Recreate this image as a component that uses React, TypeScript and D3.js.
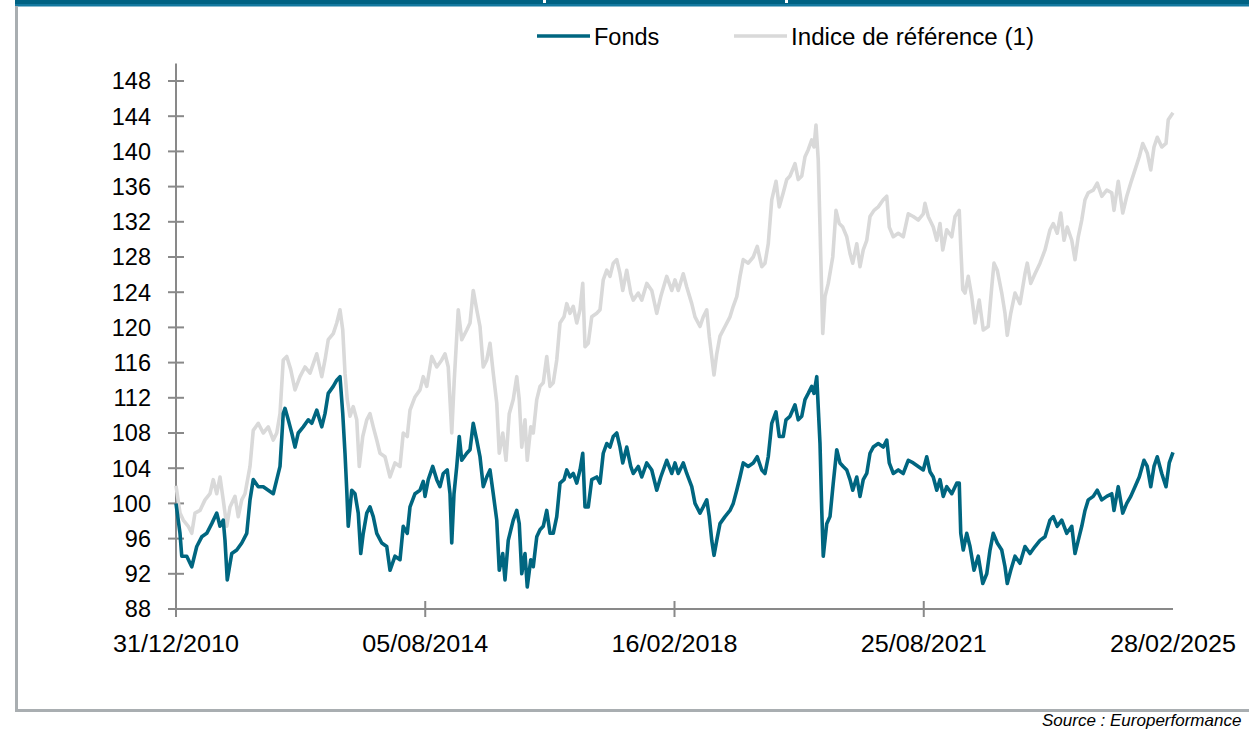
import React from "react";
import * as d3 from "d3";

// ---- Data (observation index along the category axis, value base 100) ----
const fonds: [number, number][] = [
  [0, 100.0], [16, 96.6], [23, 94.0], [43, 94.0], [63, 92.8], [83, 95.1], [103, 96.2], [123, 96.6],
  [143, 97.7], [163, 98.9], [176, 97.4], [189, 98.1], [196, 95.8], [205, 91.3], [223, 94.3], [243, 94.7],
  [263, 95.5], [283, 96.6], [296, 100.4], [309, 102.7], [329, 101.9], [349, 101.9], [369, 101.5], [389, 101.1],
  [403, 102.7], [416, 104.2], [429, 110.2], [436, 110.8], [449, 109.5], [463, 108.0], [476, 106.4], [489, 108.0],
  [509, 108.7], [529, 109.5], [543, 109.1], [563, 110.6], [583, 108.7], [596, 110.2], [609, 112.5], [629, 113.3],
  [643, 114.0], [656, 114.4], [667, 110.2], [676, 105.7], [683, 101.5], [689, 97.4], [703, 101.5], [716, 101.1],
  [729, 98.9], [739, 94.3], [749, 96.6], [763, 98.9], [776, 99.6], [789, 98.5], [803, 96.6], [823, 95.5],
  [843, 95.1], [856, 92.4], [876, 94.0], [896, 93.6], [909, 97.4], [925, 96.6], [936, 99.6], [956, 101.1],
  [976, 101.5], [989, 102.5], [996, 100.8], [1009, 102.7], [1027, 104.2], [1043, 102.7], [1056, 101.9], [1069, 103.4],
  [1085, 103.8], [1096, 101.1], [1103, 95.5], [1112, 101.1], [1123, 104.2], [1133, 107.6], [1143, 104.9], [1163, 105.7],
  [1176, 106.1], [1189, 109.1], [1203, 107.2], [1216, 105.3], [1229, 101.9], [1243, 103.0], [1256, 103.8], [1269, 101.1],
  [1283, 98.1], [1293, 92.4], [1307, 94.3], [1316, 91.3], [1329, 95.8], [1349, 98.1], [1363, 99.2], [1373, 97.7],
  [1383, 92.0], [1396, 94.3], [1405, 90.5], [1419, 93.6], [1429, 92.8], [1443, 96.2], [1456, 97.0], [1469, 97.4],
  [1483, 99.2], [1496, 96.6], [1509, 96.6], [1523, 98.5], [1536, 102.3], [1552, 102.7], [1563, 103.8], [1576, 103.0],
  [1589, 103.4], [1603, 102.3], [1616, 103.8], [1627, 105.7], [1636, 99.6], [1649, 99.6], [1663, 102.7], [1683, 103.0],
  [1696, 102.3], [1709, 105.7], [1723, 106.8], [1736, 106.4], [1749, 107.6], [1763, 108.0], [1776, 106.4], [1787, 104.6],
  [1803, 106.4], [1819, 104.2], [1829, 103.4], [1849, 104.2], [1863, 103.0], [1883, 104.6], [1903, 103.8], [1923, 101.5],
  [1939, 103.0], [1963, 104.9], [1983, 103.4], [1996, 104.6], [2009, 103.4], [2029, 104.6], [2043, 103.4], [2063, 101.9],
  [2076, 100.0], [2096, 98.9], [2109, 99.6], [2123, 100.4], [2133, 98.5], [2143, 95.8], [2152, 94.1], [2163, 95.8],
  [2176, 97.7], [2196, 98.5], [2216, 99.2], [2229, 100.0], [2243, 101.5], [2256, 103.0], [2269, 104.6], [2289, 104.2],
  [2309, 104.6], [2325, 105.3], [2343, 103.8], [2356, 103.4], [2369, 105.3], [2383, 109.1], [2400, 110.4], [2413, 107.6],
  [2429, 107.6], [2440, 109.5], [2456, 109.9], [2476, 111.2], [2489, 109.5], [2503, 109.9], [2516, 111.8], [2529, 112.5],
  [2543, 113.3], [2552, 112.5], [2563, 114.4], [2576, 106.8], [2583, 99.2], [2589, 94.0], [2603, 97.7], [2616, 98.5],
  [2629, 102.3], [2643, 106.1], [2656, 104.6], [2669, 104.2], [2683, 103.8], [2696, 102.7], [2707, 101.5], [2723, 103.0],
  [2736, 100.8], [2749, 102.7], [2763, 103.4], [2776, 105.7], [2789, 106.4], [2809, 106.8], [2829, 106.4], [2843, 107.2],
  [2853, 104.6], [2869, 103.4], [2889, 103.8], [2909, 103.4], [2929, 104.9], [2949, 104.6], [2969, 104.2], [2989, 103.8],
  [3003, 105.3], [3016, 103.6], [3029, 103.0], [3043, 101.5], [3056, 102.7], [3069, 100.8], [3083, 101.9], [3103, 101.1],
  [3123, 102.3], [3133, 102.3], [3139, 96.6], [3149, 94.7], [3163, 96.6], [3176, 95.1], [3192, 92.4], [3209, 94.0],
  [3227, 90.9], [3243, 92.0], [3256, 94.7], [3269, 96.6], [3285, 95.5], [3303, 94.7], [3316, 92.8], [3325, 90.9],
  [3339, 92.4], [3356, 94.0], [3376, 93.2], [3396, 95.1], [3416, 94.3], [3436, 95.1], [3456, 95.8], [3476, 96.2],
  [3496, 98.1], [3509, 98.5], [3525, 97.4], [3543, 98.1], [3563, 96.6], [3583, 97.4], [3596, 94.3], [3609, 95.8],
  [3623, 97.4], [3636, 99.2], [3649, 100.4], [3669, 100.8], [3685, 101.5], [3703, 100.4], [3723, 100.8], [3743, 101.1],
  [3752, 99.2], [3769, 101.9], [3787, 98.9], [3803, 100.0], [3819, 100.8], [3836, 101.9], [3853, 103.0], [3872, 104.9],
  [3885, 104.2], [3899, 101.9], [3912, 104.2], [3925, 105.3], [3943, 103.4], [3960, 101.9], [3973, 104.6], [3988, 105.8],
];

const indice: [number, number][] = [
  [0, 102.0], [16, 98.9], [29, 98.1], [49, 97.4], [63, 96.6], [76, 98.9], [96, 99.2], [116, 100.4],
  [136, 101.1], [149, 102.7], [163, 101.1], [176, 103.0], [189, 100.4], [203, 97.4], [216, 99.6], [236, 100.8],
  [249, 98.5], [263, 100.4], [276, 101.1], [296, 104.2], [309, 108.3], [329, 109.1], [349, 108.0], [369, 108.7],
  [389, 107.2], [403, 108.0], [416, 110.2], [429, 116.3], [443, 116.7], [459, 115.2], [476, 112.9], [496, 114.4],
  [516, 115.5], [536, 114.8], [563, 117.0], [583, 114.4], [596, 116.3], [609, 118.6], [629, 119.3], [643, 120.5],
  [656, 122.0], [667, 119.7], [676, 114.8], [685, 111.8], [696, 109.9], [709, 111.0], [723, 109.5], [733, 104.2],
  [747, 107.6], [763, 109.5], [776, 110.2], [789, 108.7], [803, 107.2], [816, 105.7], [836, 105.3], [856, 103.0],
  [876, 104.6], [896, 104.2], [909, 108.0], [925, 107.6], [936, 110.6], [956, 112.1], [976, 112.9], [989, 114.4],
  [1003, 113.3], [1023, 116.7], [1043, 115.5], [1063, 116.3], [1076, 117.0], [1089, 115.5], [1103, 108.0], [1113, 114.0],
  [1129, 122.0], [1143, 118.6], [1163, 119.7], [1176, 120.5], [1189, 124.2], [1203, 122.0], [1216, 120.1], [1229, 115.5],
  [1243, 116.3], [1256, 118.2], [1269, 114.8], [1283, 111.4], [1293, 105.7], [1307, 108.0], [1320, 104.9], [1333, 110.2],
  [1349, 111.8], [1363, 114.4], [1373, 111.8], [1383, 106.4], [1396, 109.5], [1405, 104.9], [1419, 108.7], [1429, 108.0],
  [1443, 111.8], [1456, 113.3], [1469, 113.7], [1483, 116.7], [1496, 113.3], [1509, 113.7], [1523, 116.3], [1536, 120.5],
  [1552, 121.2], [1563, 122.7], [1576, 121.6], [1589, 122.4], [1603, 120.5], [1616, 122.0], [1627, 125.0], [1636, 117.8],
  [1649, 118.2], [1663, 121.2], [1683, 121.6], [1696, 122.0], [1709, 125.4], [1723, 126.5], [1736, 125.8], [1749, 127.3],
  [1763, 127.7], [1776, 126.1], [1787, 124.2], [1803, 126.5], [1819, 123.9], [1829, 123.1], [1849, 123.9], [1863, 123.1],
  [1883, 125.0], [1903, 124.2], [1923, 121.6], [1939, 123.5], [1963, 125.8], [1983, 124.2], [1996, 125.4], [2009, 124.2],
  [2029, 126.1], [2043, 124.6], [2063, 122.7], [2076, 121.2], [2096, 120.1], [2109, 121.2], [2123, 122.0], [2133, 119.0],
  [2143, 116.7], [2152, 114.6], [2163, 117.0], [2176, 119.0], [2196, 120.1], [2216, 121.2], [2229, 122.4], [2243, 123.5],
  [2256, 125.8], [2269, 127.7], [2289, 127.3], [2309, 128.0], [2325, 129.2], [2343, 126.9], [2356, 127.3], [2369, 129.5],
  [2383, 134.5], [2400, 136.6], [2413, 133.7], [2429, 135.3], [2443, 136.8], [2456, 137.2], [2476, 138.6], [2489, 136.8],
  [2503, 137.2], [2516, 139.4], [2529, 140.2], [2543, 141.3], [2552, 140.5], [2560, 143.0], [2569, 139.0], [2576, 131.4],
  [2587, 119.3], [2596, 123.5], [2609, 125.0], [2627, 128.0], [2640, 133.3], [2653, 131.8], [2667, 131.4], [2683, 130.3],
  [2696, 128.4], [2707, 127.3], [2723, 129.5], [2736, 126.9], [2749, 128.8], [2763, 129.9], [2776, 132.6], [2792, 133.3],
  [2809, 133.7], [2829, 134.5], [2843, 134.9], [2853, 131.4], [2869, 130.3], [2889, 130.7], [2909, 130.3], [2929, 132.9],
  [2949, 132.6], [2969, 132.2], [2989, 132.9], [2996, 134.1], [3009, 132.6], [3029, 131.4], [3043, 129.9], [3056, 131.8],
  [3067, 128.8], [3083, 131.1], [3103, 130.3], [3116, 132.6], [3133, 133.3], [3139, 129.2], [3147, 124.3], [3156, 123.9],
  [3169, 125.8], [3183, 123.5], [3196, 120.5], [3213, 123.1], [3229, 119.7], [3249, 120.1], [3263, 124.6], [3272, 127.3],
  [3285, 126.5], [3303, 123.9], [3316, 121.6], [3325, 119.1], [3339, 121.6], [3356, 123.9], [3376, 122.7], [3396, 126.1],
  [3405, 127.3], [3419, 125.0], [3436, 126.1], [3456, 127.3], [3476, 128.8], [3496, 131.1], [3509, 131.8], [3525, 130.7],
  [3539, 133.0], [3552, 129.9], [3565, 131.4], [3583, 129.9], [3596, 127.7], [3609, 130.3], [3623, 132.2], [3636, 134.5],
  [3649, 135.3], [3669, 135.6], [3685, 136.4], [3703, 134.9], [3723, 135.6], [3743, 135.3], [3752, 133.3], [3769, 136.6],
  [3787, 133.0], [3803, 134.9], [3819, 136.4], [3836, 137.9], [3853, 139.4], [3867, 140.9], [3885, 139.8], [3899, 137.9],
  [3912, 140.5], [3925, 141.6], [3943, 140.5], [3960, 140.9], [3969, 143.6], [3988, 144.4],
];

const xTickObs = [0, 997, 1994, 2991, 3988];
const xTickLabels = ["31/12/2010", "05/08/2014", "16/02/2018", "25/08/2021", "28/02/2025"];
const yTicks = [88, 92, 96, 100, 104, 108, 112, 116, 120, 124, 128, 132, 136, 140, 144, 148];
const seriesNames = ["Fonds", "Indice de référence (1)"];

const W = 1249;
const H = 731;
const FONDS = "#006680";
const INDICE = "#d9d9d9";
const AXIS = "#898989";
const FONT = "'Liberation Sans', Arial, sans-serif";

export default function App() {
  const x = d3.scaleLinear().domain([0, 3988]).range([176, 1173]);
  const y = d3.scaleLinear().domain([88, 150]).range([609, 63.4]);
  const line = d3
    .line<[number, number]>()
    .x((d) => x(d[0]))
    .y((d) => y(d[1]))
    .curve(d3.curveLinear);

  const x0 = x(0);
  const y0 = y(88);

  return (
    <svg
      width={W}
      height={H}
      viewBox={`0 0 ${W} ${H}`}
      style={{ position: "absolute", left: 0, top: 0, display: "block", background: "#fff" }}
    >
      {/* header band */}
      <rect x={15} y={0} width={W - 15} height={4} fill="#006283" />
      <rect x={15} y={4} width={W - 15} height={2.5} fill="#1479a0" />
      <rect x={543} y={0} width={3} height={3} fill="#ffffff" />
      <rect x={785} y={0} width={3} height={3} fill="#ffffff" />

      {/* frame */}
      <rect x={15} y={6} width={3} height={706} fill="#a9aeb1" />
      <rect x={15} y={709} width={W - 15} height={3} fill="#a9aeb1" />

      {/* legend */}
      <line x1={537} x2={590} y1={36} y2={36} stroke={FONDS} strokeWidth={3.5} />
      <text x={594} y={44.5} fontFamily={FONT} fontSize={23.5} fill="#000">
        {seriesNames[0]}
      </text>
      <line x1={734} x2={787} y1={36} y2={36} stroke={INDICE} strokeWidth={3.5} />
      <text x={791} y={44.5} fontFamily={FONT} fontSize={23.5} textLength={243} lengthAdjust="spacingAndGlyphs" fill="#000">
        {seriesNames[1]}
      </text>

      {/* y axis */}
      <line x1={x0} x2={x0} y1={y(150)} y2={y0} stroke={AXIS} strokeWidth={2} />
      {yTicks.map((t) => (
        <g key={t}>
          <line x1={x0 - 8} x2={x0 + 8} y1={y(t)} y2={y(t)} stroke={AXIS} strokeWidth={2} />
          <text
            x={151}
            y={y(t) + 8.4}
            textAnchor="end"
            fontFamily={FONT}
            fontSize={23.5}
            fill="#000"
          >
            {t}
          </text>
        </g>
      ))}

      {/* series */}
      <path d={line(indice) || ""} fill="none" stroke={INDICE} strokeWidth={3.6} strokeLinejoin="round" />
      <path d={line(fonds) || ""} fill="none" stroke={FONDS} strokeWidth={3.6} strokeLinejoin="round" />

      {/* x axis */}
      <line x1={x0 - 6} x2={x(3988)} y1={y0} y2={y0} stroke={AXIS} strokeWidth={2} />
      {xTickObs.map((o, i) => (
        <g key={o}>
          {i < xTickObs.length - 1 && (
            <line x1={x(o)} x2={x(o)} y1={y0 - 8} y2={y0 + 8} stroke={AXIS} strokeWidth={2} />
          )}
          <text
            x={x(o)}
            y={652}
            textAnchor="middle"
            fontFamily={FONT}
            fontSize={23.5}
            textLength={126}
            lengthAdjust="spacingAndGlyphs"
            fill="#000"
          >
            {xTickLabels[i]}
          </text>
        </g>
      ))}

      {/* source */}
      <text
        x={1042}
        y={726}
        fontFamily={FONT}
        fontStyle="italic"
        fontSize={17}
        fill="#000"
      >
        Source : Europerformance
      </text>
    </svg>
  );
}
